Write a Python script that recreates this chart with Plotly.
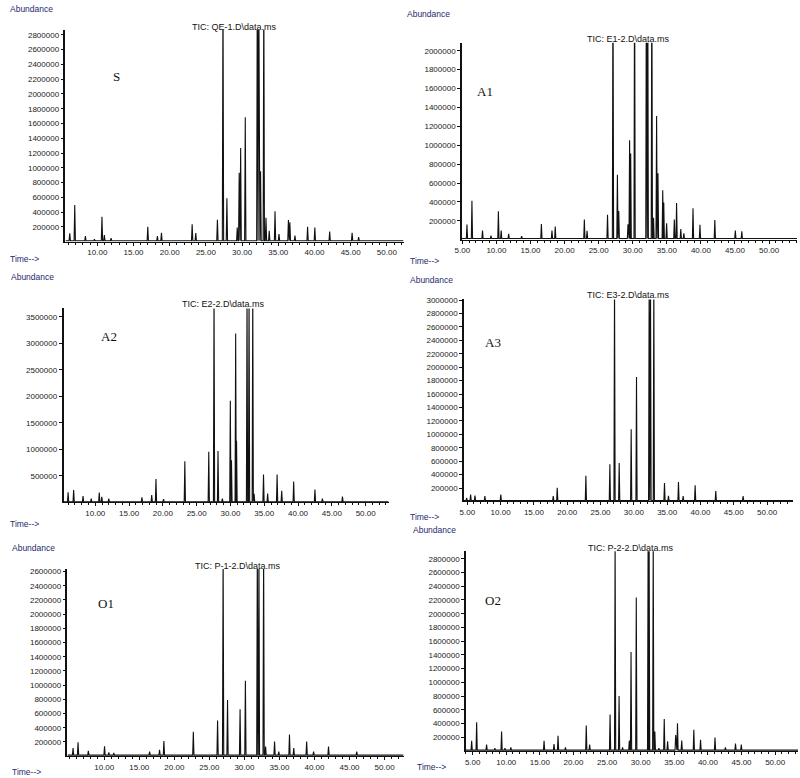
"""
Six TIC chromatograms (S, A1, A2, A3, O1, O2) drawn as a 3x2 grid.
"""
import plotly.graph_objects as go

W, H = 800, 778

# retention time (min) and abundance of the peaks
s_rt = [6.19, 6.88, 8.35, 9.6, 10.64, 10.97, 11.9, 16.97, 18.3, 18.86, 23.1, 23.6,
        26.59, 27.36, 27.9, 29.33, 29.6, 29.8, 30.44, 32.1, 32.3, 32.55, 33.0, 33.3,
        33.75, 34.55, 35.1, 36.4, 36.6, 37.3, 39.05, 40.05, 42.1, 45.2, 46.1]
s_abund = [100000, 485000, 63000, 20000, 323000, 76000, 35000, 190000, 63000, 108000, 224000, 103000,
           283000, 3500000, 574000, 180000, 920000, 1256000, 1670000, 3600000, 3600000, 940000, 3500000, 310000,
           135000, 400000, 90000, 280000, 250000, 70000, 190000, 180000, 125000, 108000, 50000]

a1_rt = [5.68, 6.41, 7.96, 9.2, 10.29, 10.7, 11.8, 13.7, 16.6, 18.15, 18.63, 22.9, 23.3,
         26.3, 27.1, 27.75, 27.95, 29.3, 29.54, 29.7, 30.27, 32.0, 32.2, 32.8, 33.05, 33.5,
         33.7, 34.4, 34.55, 34.97, 36.1, 36.43, 37.05, 37.5, 38.84, 39.86, 42.04, 45.05, 46.0]
a1_abund = [147000, 400000, 84000, 30000, 288000, 84000, 50000, 25000, 154000, 84000, 126000, 200000, 80000,
            250000, 3000000, 674000, 290000, 150000, 1040000, 900000, 3000000, 3000000, 3000000, 3000000, 220000, 1295000,
            690000, 510000, 380000, 160000, 200000, 375000, 100000, 55000, 320000, 144000, 196000, 84000, 77000]

a2_rt = [5.98, 6.8, 8.19, 9.4, 10.59, 10.97, 12.0, 16.9, 18.35, 18.98, 20.1, 23.25, 26.79,
         27.57, 28.16, 28.8, 29.98, 30.15, 30.77, 30.9, 32.45, 32.75, 33.3, 33.5, 34.89, 35.5,
         36.9, 37.58, 39.35, 42.5, 43.6, 46.57]
a2_abund = [175000, 220000, 106000, 60000, 170000, 90000, 60000, 80000, 125000, 425000, 50000, 760000, 940000,
            4000000, 956000, 60000, 1900000, 780000, 3170000, 1150000, 4000000, 4000000, 4000000, 150000, 510000, 155000,
            510000, 205000, 380000, 230000, 60000, 95000]

a3_rt = [4.9, 5.5, 6.15, 7.64, 10.03, 17.9, 18.5, 22.8, 26.4, 27.1, 27.8, 29.6, 30.4,
         32.3, 32.5, 33.0, 34.6, 35.2, 36.7, 37.4, 39.2, 42.3, 46.4]
a3_abund = [40000, 90000, 75000, 65000, 90000, 65000, 190000, 370000, 540000, 3300000, 560000, 1060000, 1840000,
            3300000, 3300000, 3300000, 260000, 70000, 275000, 65000, 225000, 140000, 65000]

o1_rt = [5.55, 6.26, 7.73, 10.04, 10.65, 11.36, 16.47, 17.89, 18.51, 22.71, 26.17, 26.96,
         27.59, 29.38, 30.14, 31.84, 32.07, 32.74, 33.02, 34.3, 34.9, 36.43, 37.04, 38.88,
         39.87, 42.0, 46.03]
o1_abund = [100000, 180000, 60000, 126000, 40000, 30000, 50000, 75000, 200000, 330000, 487000, 2900000,
            777000, 646000, 1048000, 2900000, 2900000, 2900000, 120000, 190000, 50000, 290000, 100000, 190000,
            50000, 120000, 50000]

o2_rt = [4.85, 5.59, 7.07, 8.3, 9.3, 9.8, 10.68, 15.62, 17.1, 17.7, 18.8, 21.9, 22.4, 25.44,
         26.19, 26.78, 27.3, 28.3, 28.56, 29.34, 31.1, 31.25, 31.86, 32.1, 32.7, 33.5, 34.0,
         35.2, 35.47, 36.1, 37.9, 38.9, 41.05, 42.6, 44.1, 44.96]
o2_abund = [138000, 407000, 80000, 30000, 270000, 30000, 40000, 138000, 90000, 210000, 40000, 360000, 80000, 520000,
            3100000, 790000, 40000, 140000, 1430000, 2220000, 3100000, 3100000, 3100000, 270000, 30000, 455000, 130000,
            220000, 390000, 140000, 297000, 150000, 185000, 40000, 95000, 80000]

labels = ["S", "A1", "A2", "A3", "O1", "O2"]
files = ["TIC: QE-1.D\\data.ms", "TIC: E1-2.D\\data.ms", "TIC: E2-2.D\\data.ms",
         "TIC: E3-2.D\\data.ms", "TIC: P-1-2.D\\data.ms", "TIC: P-2-2.D\\data.ms"]
x_ticks = [[10, 15, 20, 25, 30, 35, 40, 45, 50],
           [5, 10, 15, 20, 25, 30, 35, 40, 45, 50],
           [10, 15, 20, 25, 30, 35, 40, 45, 50],
           [5, 10, 15, 20, 25, 30, 35, 40, 45, 50],
           [10, 15, 20, 25, 30, 35, 40, 45, 50],
           [5, 10, 15, 20, 25, 30, 35, 40, 45, 50]]
y_ticks = [list(range(200000, 2800001, 200000)),
           list(range(200000, 2000001, 200000)),
           list(range(500000, 3500001, 500000)),
           list(range(200000, 3000001, 200000)),
           list(range(200000, 2600001, 200000)),
           list(range(200000, 2800001, 200000))]

series = [(s_rt, s_abund), (a1_rt, a1_abund), (a2_rt, a2_abund),
          (a3_rt, a3_abund), (o1_rt, o1_abund), (o2_rt, o2_abund)]

# layout in pixels: plot box (left, right, top, bottom), x range, y max
boxes = [(59, 400, 26, 239), (459, 797, 39, 237),
         (57, 385, 306, 501), (461, 793, 297, 500),
         (61, 400, 568, 756), (463, 798, 550, 751)]
x_ranges = [(5.6, 52.3), (4.95, 54.1), (5.3, 53.4), (4.5, 53.9), (4.75, 52.7), (4.0, 53.4)]
y_tops = [2867000, 2084000, 3656000, 3010000, 2634000, 2910000]
label_pos = [(110, 73), (482, 88), (103, 334), (490, 340), (100, 603), (490, 600)]
title_pos = [(230, 23), (627, 35), (218, 302), (627, 293), (233, 565), (630, 547)]
abund_pos = [(1, 5), (402, 10), (2, 274), (405, 277), (3, 547), (408, 529)]
time_pos = [(1, 256), (405, 258), (1, 523), (405, 516), (3, 772), (412, 767)]

HW = 0.09      # half width of a peak, min
BASE = 14000   # baseline level


def px(x):
    return x / W


def py(y):
    return 1 - y / H


fig = go.Figure()
layout = dict(width=W, height=H, margin=dict(l=0, r=0, t=0, b=0),
              paper_bgcolor="white", plot_bgcolor="white", showlegend=False,
              font=dict(family="Arial, Liberation Sans", color="#222"))
annotations = []


def note(x, y, text, anchor="center", **font):
    annotations.append(dict(x=px(x), y=py(y), xref="paper", yref="paper", text=text,
                            xanchor=anchor, yanchor="middle", showarrow=False, font=font))


for i, (rt, ab) in enumerate(series):
    n = "" if i == 0 else str(i + 1)
    x0, x1 = x_ranges[i]
    xs, ys = [x0], [BASE]
    for t, a in sorted(zip(rt, ab)):
        xs += [t - HW, t, t + HW]
        ys += [BASE, BASE + a, BASE]
    xs.append(x1)
    ys.append(BASE)
    fig.add_trace(go.Scatter(x=xs, y=ys, mode="lines", xaxis="x" + n, yaxis="y" + n,
                             line=dict(color="#111", width=1.1), hoverinfo="skip"))

    l, r, t, b = boxes[i]
    layout["xaxis" + n] = dict(domain=[px(l), px(r)], range=[x0, x1], anchor="y" + n,
                               tickvals=x_ticks[i], tickformat=".2f",
                               showline=True, linecolor="#111", linewidth=1,
                               ticks="outside", ticklen=3, tickcolor="#111",
                               minor=dict(ticks="outside", dtick=1, ticklen=2, tickcolor="#111"),
                               tickfont=dict(size=8), showgrid=False, zeroline=False)
    layout["yaxis" + n] = dict(domain=[py(b), py(t)], range=[0, y_tops[i]], anchor="x" + n,
                               tickvals=y_ticks[i], tickformat="d",
                               showline=True, linecolor="#111", linewidth=1.5,
                               ticks="outside", ticklen=3, tickcolor="#111",
                               tickfont=dict(size=8), showgrid=False, zeroline=False)

    note(*label_pos[i], labels[i], family="Liberation Serif", size=13, color="#111")
    note(*title_pos[i], files[i], size=9, color="#111")
    note(*abund_pos[i], "Abundance", anchor="left", size=8.5, color="#1f2a6e")
    note(*time_pos[i], "Time-->", anchor="left", size=8.5, color="#1f2a6e")

layout["annotations"] = annotations
fig.update_layout(**layout)
# the page body has a default margin; drop it so the figure sits at the window corner
fig.write_html("out.html", config={"displayModeBar": False},
               post_script="document.body.style.margin='0';document.body.style.padding='0';")
